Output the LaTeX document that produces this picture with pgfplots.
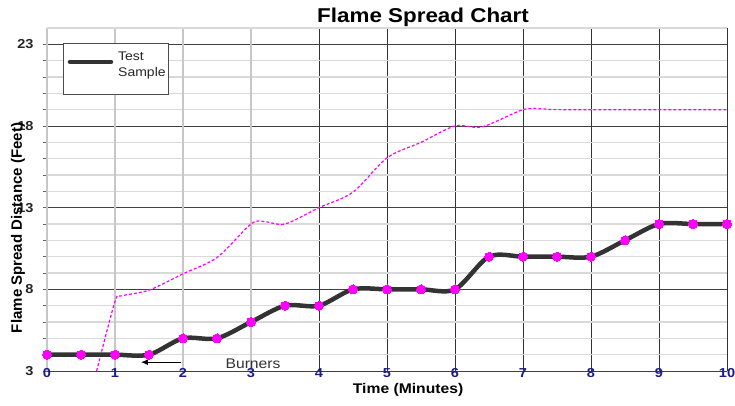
\documentclass[border=0pt]{standalone}
\usepackage{pgfplots}
\pgfplotsset{compat=1.18}
\usetikzlibrary{arrows.meta}
\usepackage{fontspec}
\setmainfont{Liberation Sans}[FakeStretch=1.12]
\newfontfamily\ylabfont{Liberation Sans}

\definecolor{darkline}{HTML}{333333}
\definecolor{pinkmark}{HTML}{FF00FF}
\definecolor{ticknavy}{HTML}{1C1C8C}

% Test sample (black line with markers)
\pgfplotstableread{
t d
0   4
0.5 4
1   4
1.5 4
2   5
2.5 5
3   6
3.5 7
4   7
4.5 8
5   8
5.5 8
6   8
6.5 10
7   10
7.5 10
8   10
8.5 11
9   12
9.5 12
10  12
}\sampletable

% dashed pink curve
\pgfplotstableread{
t d
0.73 3
1    7.25
1.1  7.6
1.5  7.95
2    8.95
2.5  9.95
3    12
3.2  12.15
3.5  12.0
4    13
4.5  13.95
5    16.05
5.5  17
6    18
6.4  17.95
7    19
7.3  19.05
7.6  19
10   19
}\pinktable

\begin{document}
\begin{tikzpicture}
\useasboundingbox (-47pt,-34pt) rectangle (688pt,371pt);
\begin{axis}[
    at={(0,0)}, anchor=south west,
    scale only axis,
    width=680pt, height=343pt,
    xmin=0, xmax=10, ymin=3, ymax=24,
    clip=false,
    axis x line*=bottom, axis y line*=left,
    x axis line style={-, black!75, line width=1pt},
    y axis line style={-, black!20, line width=1.2pt},
    tick align=outside,
    xtick={4,5,6,7,8,9,10},
    extra x ticks={0,1,2,3},
    extra x tick style={major x grid style={black!22, line width=1.4pt}},
    xtick style={draw=none},
    xmajorgrids,
    major x grid style={black!80, line width=0.9pt},
    ytick={3,8,13,18,23},
    minor y tick num=4,
    extra y ticks={24},
    extra y tick labels={},
    extra y tick style={major y grid style={black!15, line width=1.2pt}, major tick length=0pt},
    ymajorgrids, yminorgrids,
    major y grid style={black!75, line width=0.9pt},
    minor y grid style={black!15, line width=1.2pt},
    ytick style={black!60, line width=0.8pt},
    major tick length=4pt, minor tick length=4pt,
    /pgf/number format/assume math mode=true,
    xticklabel style={font=\fontsize{13}{14}\selectfont\bfseries, color=ticknavy, anchor=center, yshift=2pt},
    yticklabel style={font=\fontsize{13}{14}\selectfont\bfseries, color=black!85, xshift=-6pt},
    title={Flame Spread Chart},
    title style={at={(axis description cs:0.553,1.015)}, anchor=center, font=\fontsize{20}{22}\selectfont\bfseries},
    xlabel={Time (Minutes)},
    xlabel style={at={(axis description cs:0.531,-0.0554)}, anchor=center, font=\fontsize{14}{16}\selectfont\bfseries},
    ylabel={Flame Spread Distance (Feet)},
    ylabel style={at={(axis description cs:-0.0426,0.417)}, anchor=center, font=\ylabfont\fontsize{15}{17}\selectfont\bfseries},
]
\addplot[pinkmark, line width=1.2pt, dash pattern=on 3pt off 2pt, smooth, restrict y to domain=3:24] table[x=t, y=d] {\pinktable};
\addplot[darkline, line width=4.5pt, smooth, mark=*, mark size=4.5pt,
    mark options={fill=pinkmark, draw=pinkmark, line width=0pt, solid}] table[x=t, y=d] {\sampletable};
% legend box
\draw[black!70, line width=0.8pt, fill=white] (rel axis cs:0.0235,0.956) rectangle (rel axis cs:0.178,0.805);
\draw[darkline, line width=4.5pt, line cap=round] (rel axis cs:0.0338,0.901) -- (rel axis cs:0.0941,0.901);
\node[anchor=north west, align=left, inner sep=0pt, font=\fontsize{12.5}{16}\selectfont, color=black!85]
    at (rel axis cs:0.1044,0.930) {Test\\Sample};
% burner annotation
\draw[-{Latex[length=7pt,width=6pt]}, line width=1.2pt, black] (axis cs:1.97,3.54) -- (axis cs:1.38,3.54);
\node[font=\fontsize{14}{16}\selectfont, color=black!80] at (axis cs:3.03,3.42) {Burners};
\end{axis}
\end{tikzpicture}
\end{document}
